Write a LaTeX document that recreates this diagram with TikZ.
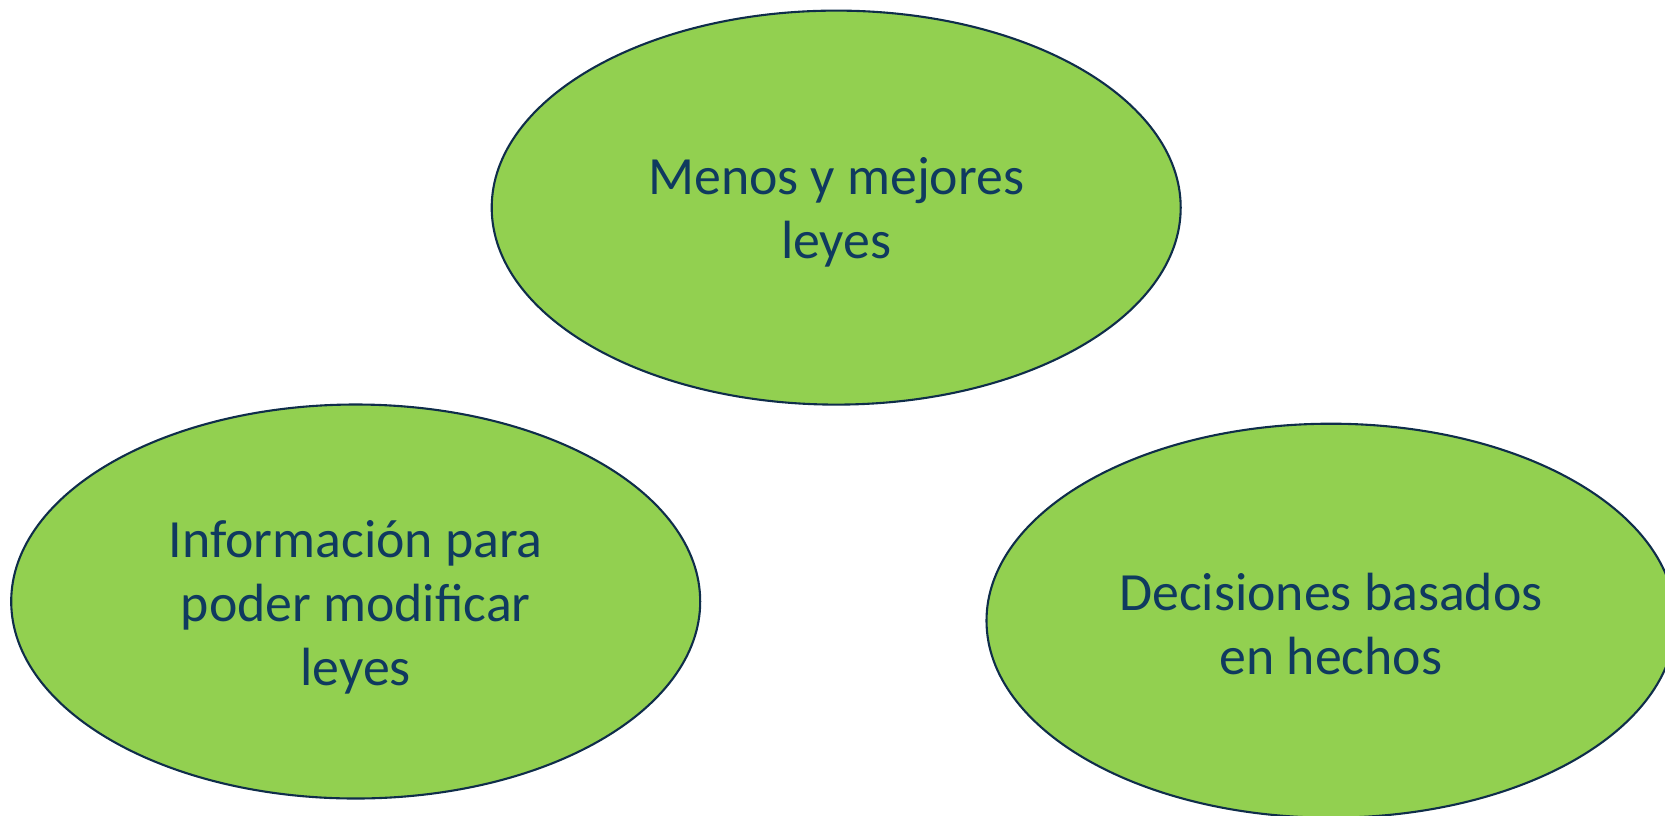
\documentclass[tikz,border=0pt]{standalone}
\usepackage{fontspec}
\setmainfont{Carlito}
\usetikzlibrary{shapes.geometric}
\definecolor{ovalfill}{HTML}{92D050}
\definecolor{ovaldraw}{HTML}{0F2D4A}
\definecolor{ovaltext}{HTML}{0F3A5F}
\tikzset{
  oval/.style={ellipse, draw=ovaldraw, line width=1.05pt, fill=ovalfill,
    minimum width=344.5pt, minimum height=197pt, inner sep=0pt},
  ovallabel/.style={text=ovaltext, align=center, inner sep=0pt,
    font=\fontsize{26.9}{32}\selectfont}
}
\begin{document}
\begin{tikzpicture}[x=0.5pt,y=-0.5pt]
\useasboundingbox (0,0) rectangle (1665,815);
\clip (0,0) rectangle (1665,815);
\node[oval] (top) at (836.2,207.6) {};
\node[oval] (left) at (355.7,601.5) {};
\node[oval] (right) at (1331,620.7) {};
\node[ovallabel, yshift=-2.5pt] (topt) at (top.center) {Menos y mejores\\leyes};
\node[ovallabel, yshift=-3pt] (leftt) at (left.center) {Información para\\poder modificar\\leyes};
\node[ovallabel, yshift=-1.5pt] (rightt) at (right.center) {Decisiones basados\\en hechos};
\end{tikzpicture}
\end{document}
